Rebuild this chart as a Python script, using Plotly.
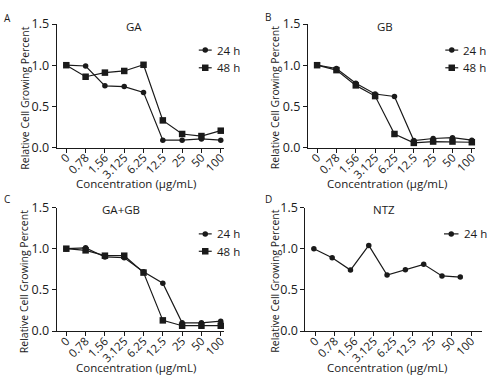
import plotly.graph_objects as go

conc = ["0", "0.78", "1.56", "3.125", "6.25", "12.5", "25", "50", "100"]

ga_24 = [1.00, 0.99, 0.75, 0.74, 0.67, 0.09, 0.09, 0.105, 0.09]
ga_48 = [1.00, 0.86, 0.91, 0.93, 1.005, 0.33, 0.165, 0.14, 0.205]
gb_24 = [1.00, 0.96, 0.78, 0.65, 0.62, 0.085, 0.11, 0.12, 0.09]
gb_48 = [1.00, 0.94, 0.755, 0.625, 0.165, 0.057, 0.073, 0.073, 0.065]
gagb_24 = [1.00, 1.01, 0.90, 0.89, 0.72, 0.58, 0.10, 0.10, 0.12]
gagb_48 = [1.00, 0.98, 0.915, 0.915, 0.71, 0.13, 0.065, 0.065, 0.065]
ntz_24 = [1.00, 0.89, 0.74, 1.04, 0.68, 0.745, 0.81, 0.67, 0.655]

panel_titles = ["GA", "GB", "GA+GB", "NTZ"]
panel_letters = ["A", "B", "C", "D"]
series_names = ["24 h", "48 h"]
ytick_vals = [0, 0.5, 1.0, 1.5]

W, H = 496, 384
FONT = "Open Sans"
INK = "#1a1a1a"

def px(x):
    return x / W

def py(y):
    return 1 - y / H

fig = go.Figure()

# panel geometry (pixels)
panels = [
    dict(x0=57, x1=225, y0=15.7, y1=145, xr=[-0.5, 8.15]),
    dict(x0=309.7, x1=478, y0=15.7, y1=145, xr=[-0.48, 8.17]),
    dict(x0=57, x1=225, y0=207.7, y1=337, xr=[-0.5, 8.15]),
    dict(x0=307.3, x1=485, y0=207.7, y1=337, xr=[-0.51, 8.56]),
]

data = [
    [ga_24, ga_48],
    [gb_24, gb_48],
    [gagb_24, gagb_48],
    [ntz_24],
]

symbols = ["circle", "square"]
msize = [5.5, 6.5]

for i, p in enumerate(panels):
    n = i + 1
    xa = "xaxis" if n == 1 else f"xaxis{n}"
    ya = "yaxis" if n == 1 else f"yaxis{n}"
    fig.layout[xa] = dict(
        domain=[px(p["x0"]), px(p["x1"])], anchor=f"y{n if n > 1 else ''}",
        type="category", categoryorder="array", categoryarray=conc,
        range=p["xr"], showline=True, linecolor=INK, linewidth=1,
        ticks="outside", ticklen=4, tickcolor=INK, tickangle=-45,
        ticklabelstandoff=-6,
        tickfont=dict(family=FONT, size=11.5, color=INK),
        showgrid=False, zeroline=False,
    )
    fig.layout[ya] = dict(
        domain=[py(p["y1"]), py(p["y0"])], anchor=f"x{n if n > 1 else ''}",
        range=[0, 1.5], tickvals=ytick_vals, tickformat=".1f",
        showline=True, linecolor=INK, linewidth=1,
        ticks="outside", ticklen=4, tickcolor=INK,
        tickfont=dict(family=FONT, size=12.5, color=INK),
        showgrid=False, zeroline=False,
    )

# hidden overlay axis for panel D data (points offset from ticks in original)
fig.layout["xaxis5"] = dict(
    domain=[px(panels[3]["x0"]), px(panels[3]["x1"])], anchor="y4",
    overlaying="x4", type="category", categoryorder="array", categoryarray=conc,
    range=[-0.46, 9.19], visible=False,
)

# invisible trace so that panel D's tick axis is drawn
fig.add_trace(go.Scatter(x=conc, y=ntz_24, xaxis="x4", yaxis="y4", mode="lines",
                         line=dict(width=0), opacity=0, hoverinfo="skip", showlegend=False))

for i, series in enumerate(data):
    n = i + 1
    xref = "x5" if n == 4 else (f"x{n}" if n > 1 else "x")
    yref = f"y{n}" if n > 1 else "y"
    for j, vals in enumerate(series):
        fig.add_trace(go.Scatter(
            x=conc, y=vals, mode="lines+markers", name=series_names[j],
            xaxis=xref, yaxis=yref, showlegend=False, cliponaxis=False,
            line=dict(color=INK, width=1.2),
            marker=dict(symbol=symbols[j], size=msize[j], color=INK),
        ))

annotations = []
shapes = []

title_pos = [(135, 18), (387.3, 18), (121.7, 210), (386.3, 210)]
letter_pos = [(8, 9), (269.7, 8), (7, 199), (269.7, 199)]
xtitle_pos = [(137, 183), (389.7, 183), (137, 374.7), (389.7, 375)]
ytitle_pos = [(25, 93), (277, 93), (25, 285), (277, 285)]
legend_pos = [(200, 213, 216, [43, 61.5]), (448, 461, 464, [43, 61.5]),
              (200, 213, 216, [235.3, 253.5]), (446.7, 461.3, 465.3, [235.3])]

for i in range(4):
    tx, ty = title_pos[i]
    annotations.append(dict(text=panel_titles[i], x=px(tx), y=py(ty), xref="paper", yref="paper",
                            showarrow=False, xanchor="center", yanchor="middle",
                            font=dict(family=FONT, size=11.5, color=INK)))
    lx, ly = letter_pos[i]
    annotations.append(dict(text=panel_letters[i], x=px(lx), y=py(ly), xref="paper", yref="paper",
                            showarrow=False, xanchor="center", yanchor="middle",
                            font=dict(family=FONT, size=10, color=INK)))
    ax, ay = xtitle_pos[i]
    annotations.append(dict(text="Concentration (μg/mL)", x=px(ax), y=py(ay), xref="paper", yref="paper",
                            showarrow=False, xanchor="center", yanchor="middle",
                            font=dict(family=FONT, size=11.5, color=INK)))
    yx, yy = ytitle_pos[i]
    annotations.append(dict(text="Relative Cell Growing Percent", x=px(yx), y=py(yy), xref="paper", yref="paper",
                            showarrow=False, xanchor="center", yanchor="middle", textangle=-90,
                            font=dict(family=FONT, size=10.5, color=INK)))
    lx0, lx1, ltx, rows = legend_pos[i]
    for j, ry in enumerate(rows):
        shapes.append(dict(type="line", xref="paper", yref="paper", x0=px(lx0), x1=px(lx1),
                           y0=py(ry), y1=py(ry), line=dict(color=INK, width=1.2)))
        cx = px((lx0 + lx1) / 2)
        half = msize[j] / 2
        shapes.append(dict(type="circle" if j == 0 else "rect", xref="paper", yref="paper",
                           xsizemode="pixel", ysizemode="pixel", xanchor=cx, yanchor=py(ry),
                           x0=-half, x1=half, y0=-half, y1=half,
                           fillcolor=INK, line=dict(width=0)))
        annotations.append(dict(text=series_names[j], x=px(ltx), y=py(ry), xref="paper", yref="paper",
                                showarrow=False, xanchor="left", yanchor="middle",
                                font=dict(family=FONT, size=11.5, color=INK)))

fig.update_layout(
    width=W, height=H, margin=dict(l=0, r=0, t=0, b=0),
    paper_bgcolor="white", plot_bgcolor="white",
    showlegend=False, annotations=annotations, shapes=shapes,
    font=dict(family=FONT, color=INK),
)

fig.write_html("out.html", config={"displayModeBar": False},
               post_script="document.body.style.margin='0';")
